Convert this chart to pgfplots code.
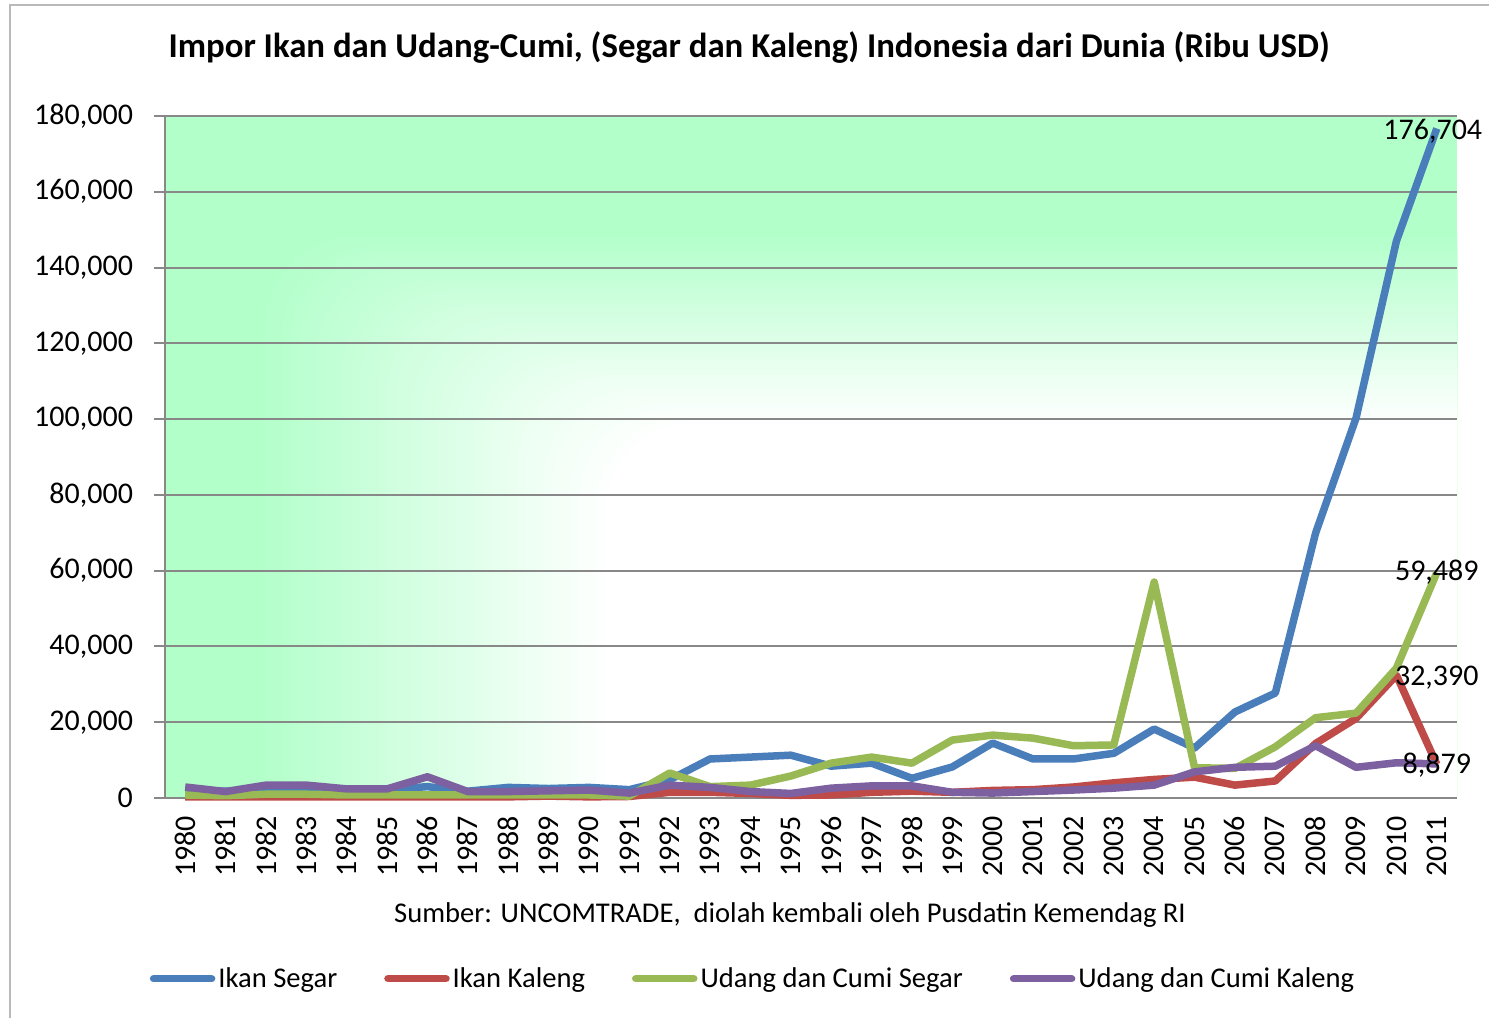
\documentclass[border=0pt]{standalone}
\usepackage{pgfplots}
\pgfplotsset{compat=1.18}
\usepackage{fontspec}
\setmainfont{Carlito}
\definecolor{bl}{HTML}{4A7EBB}
\definecolor{rd}{HTML}{BE4B48}
\definecolor{gr}{HTML}{98B954}
\definecolor{pu}{HTML}{7D60A0}
\definecolor{bg}{RGB}{178,255,202}
\definecolor{gridc}{HTML}{888888}
\newcommand{\fs}{\fontsize{15}{17}\selectfont}
\newcommand{\fl}{\fontsize{14.3}{16}\selectfont}

\pgfplotstableread{
x blue red green purple
0 2000 300 800 2900
1 1800 300 600 1700
2 2200 300 1000 3400
3 2200 300 1000 3400
4 1800 300 800 2400
5 2200 300 800 2400
6 3000 300 800 5600
7 1800 300 800 1700
8 2800 300 800 1700
9 2500 500 800 1900
10 2800 300 800 2100
11 2200 400 500 1300
12 4800 1500 6600 3400
13 10300 1500 3000 2800
14 10800 1200 3400 1700
15 11300 700 5800 1200
16 8400 800 9200 2600
17 9200 1500 10800 3200
18 5200 1800 9200 3200
19 8200 1500 15300 1500
20 14500 2000 16600 1300
21 10300 2200 15800 1700
22 10300 2900 13800 2100
23 11800 4000 14000 2600
24 18200 4900 57000 3400
25 13200 5500 8000 6900
26 22700 3400 7800 8100
27 27700 4500 13500 8400
28 70000 14400 21200 13800
29 100300 21000 22400 8100
30 147000 32390 34300 9300
31 176704 8879 59489 9000
}\datatable

\begin{document}
\begin{tikzpicture}
\path[use as bounding box] (0,0) rectangle (744.5pt,509pt);
\draw[gray!55, line width=1pt] (5pt,0) -- (5pt,506.5pt) -- (744.5pt,506.5pt);
\begin{scope}
\clip (82.5pt,110pt) rectangle (728.5pt,451pt);
\fill[bg] (82.5pt,110pt) rectangle (728.5pt,451pt);
\foreach \i in {40,39,...,0}{
  \pgfmathsetmacro{\t}{\i/40}
  \pgfmathsetmacro{\dx}{646*(0.66+0.27*\t)}
  \pgfmathsetmacro{\dy}{341*(0.55+0.28*\t)}
  \pgfmathsetmacro{\c}{100*\t}
  \fill[bg!\c!white, rounded corners=45pt] ({728.5pt-\dx pt},0pt) rectangle (900pt,{110pt+\dy pt});
}
\end{scope}
\node[font=\fontsize{17.4}{20}\selectfont\bfseries] at (374.5pt,485pt) {Impor Ikan dan Udang-Cumi, (Segar dan Kaleng) Indonesia dari Dunia (Ribu USD)};
\node[font=\fl] at (395pt,51.5pt) {Sumber: UNCOMTRADE,\ \ diolah kembali oleh Pusdatin Kemendag RI};
\begin{axis}[
  at={(82.5pt,110pt)}, anchor=south west,
  scale only axis, width=646pt, height=341pt,
  xmin=-0.5, xmax=31.5, ymin=0, ymax=180000,
  axis x line*=bottom, axis y line*=left,
  axis line style={gridc, line width=1pt},
  xtick={0,...,31},
  xticklabels={1980,1981,1982,1983,1984,1985,1986,1987,1988,1989,1990,1991,1992,1993,1994,1995,1996,1997,1998,1999,2000,2001,2002,2003,2004,2005,2006,2007,2008,2009,2010,2011},
  xticklabel style={rotate=90, anchor=east, font=\fs},
  xtick style={draw=none},
  minor xtick={-0.5,0.5,...,31.5},
  minor tick length=5pt,
  ytick={0,20000,...,180000},
  yticklabel style={font=\fs, xshift=-7pt},
  ytick style={gridc, line width=1pt},
  minor x tick style={gridc, line width=1pt},
  major tick length=5.5pt,
  tick align=outside,
  scaled y ticks=false,
  /pgf/number format/.cd, fixed, 1000 sep={,}, assume math mode=true,
  /pgfplots/.cd,
  ymajorgrids, major grid style={gridc, line width=1pt},
  clip=false,
  every axis plot/.append style={line width=3.75pt, line join=round, no markers},
  legend style={at={(axis description cs:0.4555,-0.265)}, anchor=center, draw=none, fill=none,
    legend columns=4, font=\fl, inner xsep=0pt,
    nodes={inner xsep=1.5pt},
    /tikz/every even column/.append style={column sep=22pt}},
  legend image code/.code={\draw[#1, line cap=round] (0pt,0pt) -- (29pt,0pt);},
]
\addplot[bl] table[x=x, y=blue] {\datatable};
\addplot[rd] table[x=x, y=red] {\datatable};
\addplot[gr] table[x=x, y=green] {\datatable};
\addplot[pu] table[x=x, y=purple] {\datatable};
\legend{Ikan Segar, Ikan Kaleng, Udang dan Cumi Segar, Udang dan Cumi Kaleng}
\node[font=\fs] at (axis cs:30.9,176000) {176,704};
\node[font=\fs] at (axis cs:31,59489) {59,489};
\node[font=\fs] at (axis cs:31,31700) {32,390};
\node[font=\fs] at (axis cs:31,8700) {8,879};
\end{axis}
\end{tikzpicture}
\end{document}
